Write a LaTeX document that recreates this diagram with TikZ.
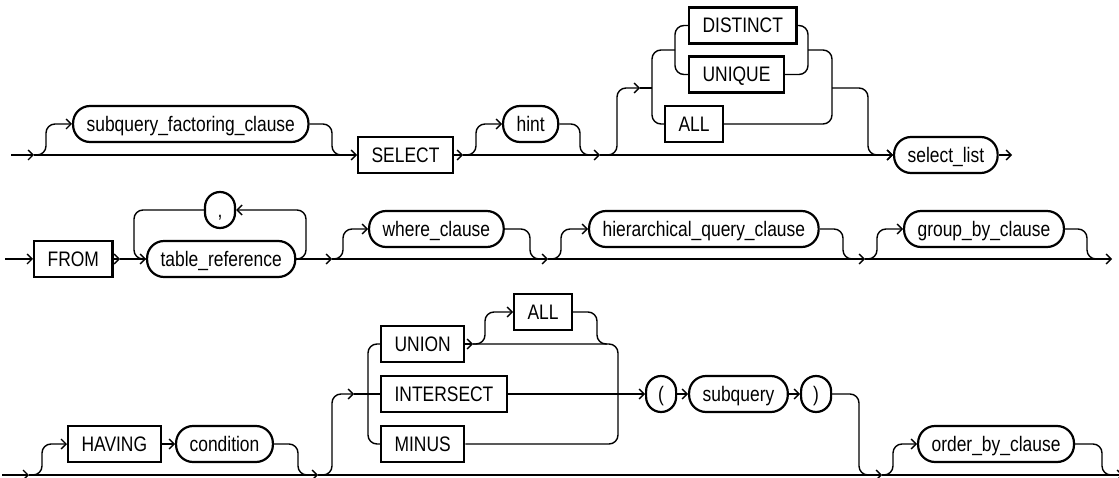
\documentclass[tikz,border=0pt]{standalone}
\usepackage{fontspec}
\setmainfont{Liberation Sans}[FakeStretch=0.83]
\usetikzlibrary{arrows.meta}
\begin{document}
\begin{tikzpicture}[x=1pt,y=-1pt,
  line width=1.4pt,
  arr/.style={-{Straight Barb[length=5pt,width=10pt]}},
  rc/.style={rounded corners=9pt},
  base/.style={draw, line width=2.2pt, anchor=west, minimum height=36pt,
    inner xsep=13.5pt, inner ysep=0pt, text height=15pt, text depth=0pt,
    font=\fontsize{21}{25}\selectfont},
  kw/.style={base},
  nt/.style={base, rounded corners=17pt},
  ch/.style={base, rounded corners=15pt, minimum width=30pt, inner xsep=0pt},
]
\useasboundingbox (0,0) rectangle (1119,478);

% ---------- Row 1 ----------
\node[nt] (sfc) at (72,124) {subquery\_factoring\_clause};
\node[kw] (select) at (357,155) {SELECT};
\node[nt] (hint) at (502,124) {hint};
\node[kw] (distinct) at (688,25.5) {DISTINCT};
\node[kw] (unique) at (688,74.5) {UNIQUE};
\node[kw] (all1) at (664,124) {ALL};
\node[nt] (sellist) at (893,155) {select\_list};

\coordinate (r1s) at (11,155);
\coordinate (r1a) at (34,155);
\draw[arr] (r1s) -- (r1a);
\draw[arr] (r1a) -- (select.west);
\draw[arr,rc] (r1a) -- (46,155) -- (46,124) -- (sfc.west);
\draw[rc] (sfc.east) -- (332,124) -- (332,155) -- (345,155);
\coordinate (r1b) at (463,155);
\draw[arr] (select.east) -- (r1b);
\coordinate (r1c) at (600,155);
\draw[arr] (r1b) -- (r1c);
\draw[arr,rc] (r1b) -- (476,155) -- (476,124) -- (hint.west);
\draw[rc] (hint.east) -- (580,124) -- (580,155) -- (592,155);
\draw[arr] (r1c) -- (sellist.west);
\coordinate (r1d) at (640,88);
\draw[arr,rc] (r1c) -- (617,155) -- (617,88) -- (r1d);
\draw (r1d) -- (652,88);
\draw[rc] (675,50) -- (652,50) -- (652,124) -- (all1.west);
\draw[rc] (distinct.west) -- (675,25.5) -- (675,74.5) -- (unique.west);
\draw[rc] (distinct.east) -- (808,25.5) -- (808,74.5) -- (unique.east);
\draw[rc] (808,50) -- (832,50) -- (832,124) -- (all1.east);
\draw[arr,rc] (832,88) -- (868,88) -- (868,155) -- (sellist.west);
\coordinate (r1e) at (1012,155);
\draw[arr] (sellist.east) -- (r1e);

% ---------- Row 2 ----------
\node[kw] (from) at (33,259) {FROM};
\node[nt] (tref) at (146,259) {table\_reference};
\node[ch, anchor=center] (comma) at (220,210) {,};
\node[nt] (where) at (368,229) {where\_clause};
\node[nt] (hier) at (588,229) {hierarchical\_query\_clause};
\node[nt] (gb) at (903,229) {group\_by\_clause};

\coordinate (r2s) at (5,259);
\draw[arr] (r2s) -- (from.west);
\coordinate (r2a) at (120,259);
\draw[arr] (from.east) -- (r2a);
\draw[arr] (r2a) -- (tref.west);
\draw[arr,rc] (tref.east) -- (306,259) -- (306,210) -- (comma.east);
\draw[rc] (comma.west) -- (134,210) -- (134,259) -- (tref.west);
\coordinate (r2b) at (332,259);
\draw[arr] (tref.east) -- (r2b);
\coordinate (r2c) at (548,259);
\draw[arr] (r2b) -- (r2c);
\draw[arr,rc] (r2b) -- (343,259) -- (343,229) -- (where.west);
\draw[rc] (where.east) -- (530,229) -- (530,259) -- (540,259);
\coordinate (r2d) at (865,259);
\draw[arr] (r2c) -- (r2d);
\draw[arr,rc] (r2c) -- (561,259) -- (561,229) -- (hier.west);
\draw[rc] (hier.east) -- (843,229) -- (843,259) -- (853,259);
\coordinate (r2e) at (1112,259);
\draw[arr] (r2d) -- (r2e);
\draw[arr,rc] (r2d) -- (877,259) -- (877,229) -- (gb.west);
\draw[rc] (gb.east) -- (1087,229) -- (1087,259) -- (1097,259);

% ---------- Row 3 ----------
\node[kw] (having) at (67,444) {HAVING};
\node[nt] (cond) at (175,444) {condition};
\node[kw] (union) at (380,344) {UNION};
\node[kw] (inter) at (380,394) {INTERSECT};
\node[kw] (minus) at (380,444) {MINUS};
\node[kw] (all3) at (513,312) {ALL};
\node[ch] (lp) at (645,394) {(};
\node[nt] (subq) at (688,394) {subquery};
\node[ch] (rp) at (800,394) {)};
\node[nt] (ob) at (917,444) {order\_by\_clause};

\coordinate (r3s) at (2,475);
\coordinate (r3a) at (29,475);
\draw[arr] (r3s) -- (r3a);
\coordinate (r3b) at (318,475);
\draw[arr] (r3a) -- (r3b);
\draw[arr,rc] (r3a) -- (42,475) -- (42,444) -- (having.west);
\draw[arr] (having.east) -- (cond.west);
\draw[rc] (cond.east) -- (298,444) -- (298,475) -- (308,475);
\coordinate (r3c) at (882,475);
\draw[arr] (r3b) -- (r3c);
\coordinate (r3f) at (354,394);
\draw[arr,rc] (r3b) -- (332,475) -- (332,394) -- (r3f);
\draw (r3f) -- (inter.west);
\draw[rc] (union.west) -- (368,344) -- (368,444) -- (minus.west);
\coordinate (r3d) at (473,344);
\draw[arr] (union.east) -- (r3d);
\draw[arr,rc] (r3d) -- (485,344) -- (485,312) -- (all3.west);
\draw[rc] (all3.east) -- (597,312) -- (597,344) -- (607,344);
\draw[rc] (r3d) -- (618,344) -- (618,444) -- (minus.east);
\draw[arr] (inter.east) -- (lp.west);
\draw[arr] (lp.east) -- (subq.west);
\draw[arr] (subq.east) -- (rp.west);
\draw[rc] (rp.east) -- (859,394) -- (859,475) -- (870,475);
\coordinate (r3e) at (1123,475);
\draw[arr] (r3c) -- (r3e);
\draw[arr,rc] (r3c) -- (893,475) -- (893,444) -- (ob.west);
\draw[rc] (ob.east) -- (1102,444) -- (1102,475) -- (1112,475);
\end{tikzpicture}
\end{document}
